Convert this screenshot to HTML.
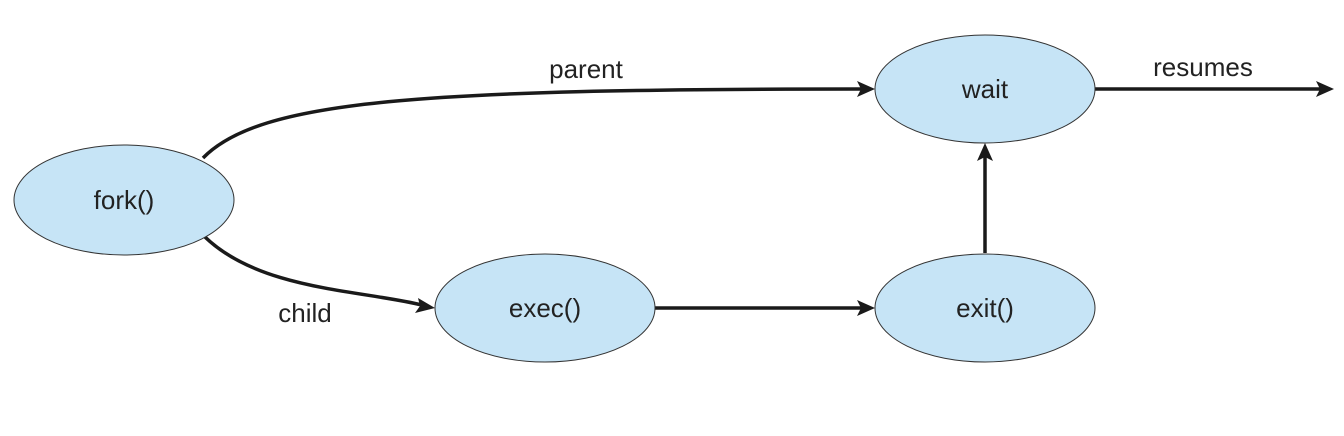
<!DOCTYPE html>
<html><head><meta charset="utf-8"><style>
html,body{margin:0;padding:0;background:#fff;}
svg{display:block;}
text{font-family:"Liberation Sans",sans-serif;font-size:26px;fill:#222;}
</style></head><body>
<svg width="1344" height="436" viewBox="0 0 1344 436">
<g stroke="#1a1a1a" stroke-width="3.5" fill="none">
<path d="M203,158 C260,100 420,89 862,89"/>
<path d="M205,237 C260,290 360,290 422,305"/>
<path d="M655,308 L862,308"/>
<path d="M985,253 L985,156"/>
<path d="M1095,89 L1320,89"/>
</g>
<g fill="#1a1a1a">
<path d="M875,89 L857,81 L861,89 L857,97 Z"/>
<path d="M435,308 L418,298 L420,306 L415,313 Z"/>
<path d="M875,308 L857,300 L861,308 L857,316 Z"/>
<path d="M985,143 L977,161 L985,157 L993,161 Z"/>
<path d="M1334,89 L1316,81 L1320,89 L1316,97 Z"/>
</g>
<g fill="#c6e4f6" stroke="#333" stroke-width="1">
<ellipse cx="124" cy="200" rx="110" ry="55"/>
<ellipse cx="985" cy="89" rx="110" ry="54"/>
<ellipse cx="545" cy="308" rx="110" ry="54"/>
<ellipse cx="985" cy="308" rx="110" ry="54"/>
</g>
<text x="124" y="209" text-anchor="middle">fork()</text>
<text x="985" y="98" text-anchor="middle">wait</text>
<text x="545" y="317" text-anchor="middle">exec()</text>
<text x="985" y="317" text-anchor="middle">exit()</text>
<text x="586" y="78" text-anchor="middle">parent</text>
<text x="305" y="322" text-anchor="middle">child</text>
<text x="1203" y="76" text-anchor="middle">resumes</text>
</svg>
</body></html>
